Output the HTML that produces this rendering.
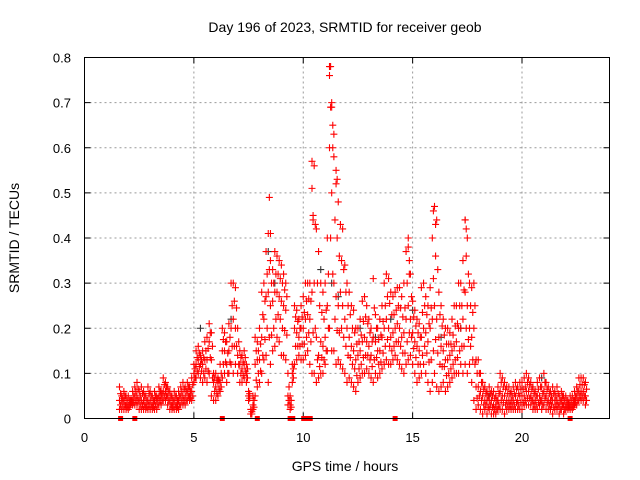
<!DOCTYPE html>
<html><head><meta charset="utf-8"><style>
body{margin:0;background:#fff}
svg{display:block;font-family:"Liberation Sans",sans-serif}
</style></head><body>
<svg id="chart" width="640" height="480">
<text x="345" y="32" text-anchor="middle" font-size="14">Day 196 of 2023, SRMTID for receiver geob</text>
<text x="345" y="471" text-anchor="middle" font-size="14">GPS time / hours</text>
<text transform="translate(19,238) rotate(-90)" text-anchor="middle" font-size="14">SRMTID / TECUs</text>
<g id="grid"></g>
<g id="ticks"></g>
<g id="marks"></g>
<rect x="84.5" y="57.5" width="525" height="361" fill="none" stroke="#000" stroke-width="1"/>
</svg>
<script>
const xTicks=[0,5,10,15,20];
const yTicks=[0,0.1,0.2,0.3,0.4,0.5,0.6,0.7,0.8];
const yTickLabels=["0","0.1","0.2","0.3","0.4","0.5","0.6","0.7","0.8"];
const tStart=1.6, tStep=0.1;
const hiVals=[.07,.05,.06,.05,
.05,.04,.06,.07,.08,.06,.07,.06,.05,.07,
.06,.05,.06,.05,.07,.06,.09,.08,.07,.06,
.05,.06,.05,.06,.07,.08,.07,.08,.07,.09,
.12,.15,.16,.14,.15,.17,.18,.21,.19,.1,
.1,.09,.12,.2,.19,.17,.21,.3,.3,.29,
.2,.15,.14,.15,.12,.06,.02,.05,.18,.17,
.2,.28,.3,.37,.41,.35,.33,.37,.36,.35,
.34,.32,.3,.1,.05,.12,.25,.24,.22,.25,
.27,.3,.3,.3,.57,.56,.42,.37,.3,.28,
.3,.4,.78,.7,.58,.52,.48,.43,.42,.34,
.3,.28,.25,.24,.2,.2,.22,.26,.27,.25,
.22,.2,.31,.23,.2,.22,.25,.3,.32,.31,
.28,.27,.28,.29,.29,.27,.3,.37,.4,.32,
.26,.24,.22,.21,.29,.3,.27,.25,.29,.4,
.47,.44,.28,.25,.22,.2,.2,.19,.22,.25,
.25,.3,.3,.35,.44,.4,.3,.29,.3,.13,
.13,.1,.08,.07,.06,.07,.06,.06,.05,.07,
.1,.09,.08,.07,.07,.06,.07,.08,.07,.08,
.08,.09,.1,.09,.08,.07,.06,.08,.09,.07,
.1,.08,.07,.06,.07,.06,.07,.05,.06,.05,
.05,.04,.05,.05,.06,.07,.09,.09,.09,.08];
const q3Vals=[.055,.045,.05,.04,
.04,.04,.05,.06,.065,.05,.055,.05,.04,.055,
.05,.04,.05,.045,.06,.055,.075,.07,.06,.05,
.04,.05,.04,.05,.06,.065,.06,.07,.06,.075,
.11,.135,.145,.13,.135,.15,.155,.19,.16,.09,
.085,.085,.1,.175,.17,.145,.18,.25,.26,.245,
.17,.135,.125,.135,.11,.055,.015,.04,.15,.15,
.165,.23,.26,.32,.33,.3,.3,.32,.32,.31,
.3,.285,.27,.07,.04,.11,.225,.215,.2,.225,
.235,.26,.265,.26,.44,.43,.3,.25,.235,.22,
.24,.32,.69,.6,.44,.4,.36,.35,.33,.28,
.25,.23,.2,.19,.165,.17,.185,.215,.225,.21,
.19,.17,.245,.2,.175,.185,.215,.25,.27,.255,
.23,.23,.24,.25,.245,.225,.245,.3,.32,.27,
.225,.205,.19,.18,.235,.25,.23,.21,.245,.31,
.36,.33,.23,.205,.185,.165,.165,.165,.185,.205,
.21,.25,.25,.285,.36,.32,.25,.235,.25,.1,
.1,.08,.065,.055,.05,.055,.05,.045,.04,.055,
.08,.07,.065,.055,.055,.05,.055,.065,.055,.065,
.065,.07,.08,.075,.065,.055,.05,.065,.07,.055,
.08,.065,.055,.05,.055,.05,.055,.04,.05,.04,
.04,.035,.04,.04,.05,.06,.075,.075,.075,.065];
const midVals=[.04,.04,.04,.03,
.03,.04,.04,.05,.05,.04,.04,.04,.03,.04,
.04,.03,.04,.04,.05,.05,.06,.06,.05,.04,
.03,.04,.03,.04,.05,.05,.05,.06,.05,.06,
.1,.12,.13,.12,.12,.13,.13,.17,.13,.08,
.07,.08,.08,.15,.15,.12,.15,.2,.22,.2,
.14,.12,.11,.12,.1,.05,.01,.03,.12,.13,
.13,.18,.22,.27,.28,.25,.26,.28,.28,.27,
.26,.25,.24,.05,.03,.1,.2,.19,.18,.2,
.2,.22,.23,.22,.28,.3,.18,.14,.17,.16,
.18,.25,.6,.5,.3,.27,.25,.28,.25,.22,
.2,.18,.16,.15,.13,.14,.15,.17,.18,.17,
.16,.14,.18,.17,.15,.15,.18,.2,.22,.2,
.18,.19,.2,.21,.2,.18,.19,.22,.25,.22,
.19,.17,.16,.15,.18,.2,.19,.17,.2,.22,
.25,.22,.18,.16,.15,.13,.13,.14,.15,.16,
.17,.2,.2,.22,.28,.25,.2,.18,.2,.07,
.07,.06,.05,.04,.04,.04,.04,.03,.03,.04,
.06,.05,.05,.04,.04,.04,.04,.05,.04,.05,
.05,.05,.06,.06,.05,.04,.04,.05,.05,.04,
.06,.05,.04,.04,.04,.04,.04,.03,.04,.03,
.03,.03,.03,.03,.04,.05,.06,.06,.06,.05];
const q1Vals=[.03,.03,.03,.025,
.025,.035,.035,.04,.04,.03,.03,.03,.025,.03,
.03,.025,.03,.03,.04,.04,.05,.05,.04,.03,
.025,.03,.025,.03,.04,.04,.04,.05,.045,.05,
.09,.105,.115,.105,.1,.11,.105,.135,.09,.06,
.055,.065,.07,.12,.125,.1,.125,.16,.16,.16,
.12,.1,.095,.105,.09,.045,.01,.025,.085,.1,
.105,.14,.175,.2,.18,.185,.2,.22,.23,.22,
.2,.195,.185,.04,.025,.09,.16,.16,.16,.165,
.165,.18,.19,.17,.19,.2,.13,.115,.135,.13,
.15,.2,.4,.32,.22,.195,.19,.2,.18,.16,
.14,.135,.12,.11,.095,.11,.12,.135,.14,.14,
.13,.115,.13,.135,.12,.125,.145,.16,.175,.16,
.15,.16,.17,.17,.16,.145,.145,.17,.19,.18,
.155,.135,.12,.12,.14,.16,.145,.125,.13,.15,
.175,.145,.12,.115,.115,.095,.1,.11,.12,.13,
.135,.15,.16,.16,.2,.175,.16,.13,.12,.045,
.05,.04,.03,.03,.025,.03,.025,.02,.02,.03,
.04,.035,.03,.03,.03,.03,.03,.035,.03,.035,
.035,.04,.045,.045,.04,.03,.03,.035,.04,.03,
.045,.035,.03,.03,.025,.03,.03,.02,.03,.02,
.025,.025,.025,.025,.035,.04,.05,.05,.05,.04];
const loVals=[.02,.02,.02,.02,
.02,.03,.03,.03,.03,.02,.02,.02,.02,.02,
.02,.02,.02,.02,.03,.03,.04,.04,.03,.02,
.02,.02,.02,.02,.03,.03,.03,.04,.04,.04,
.08,.09,.1,.09,.08,.09,.08,.1,.05,.04,
.04,.05,.06,.09,.1,.08,.1,.12,.1,.12,
.1,.08,.08,.09,.08,.04,.01,.02,.05,.07,
.08,.1,.13,.14,.08,.12,.15,.16,.18,.17,
.14,.14,.13,.03,.02,.08,.12,.13,.14,.13,
.13,.14,.15,.12,.1,.1,.08,.09,.1,.1,
.12,.15,.2,.15,.15,.12,.13,.12,.11,.1,
.08,.09,.08,.07,.06,.08,.09,.1,.1,.11,
.1,.09,.08,.1,.09,.1,.11,.12,.13,.12,
.12,.13,.14,.13,.12,.11,.1,.12,.13,.14,
.12,.1,.08,.09,.1,.12,.1,.08,.06,.08,
.1,.07,.06,.07,.08,.06,.07,.08,.09,.1,
.1,.1,.12,.1,.12,.1,.12,.08,.04,.02,
.03,.02,.01,.02,.01,.02,.01,.01,.01,.02,
.02,.02,.01,.02,.02,.02,.02,.02,.02,.02,
.02,.03,.03,.03,.03,.02,.02,.02,.03,.02,
.03,.02,.02,.02,.01,.02,.02,.01,.02,.01,
.02,.02,.02,.02,.03,.03,.04,.04,.04,.03];
const spikeTimes=[8.45,8.5,10.4,10.45,11.2,11.25,11.3,11.35,11.4,11.5,11.55,14.8,14.85,15.95,16.05,17.4,17.45];
const spikeVals=[0.49,0.41,0.51,0.45,0.76,0.78,0.69,0.65,0.63,0.55,0.53,0.38,0.35,0.46,0.43,0.44,0.42];
const grayTimes=[5.3,6.7,8.4,8.7,10.8,11.3,11.6,12.6,13.3,14.0,15.0,16.3,17.2,18.5,20.9];
const grayVals=[0.2,0.22,0.37,0.3,0.33,0.3,0.27,0.2,0.18,0.22,0.24,0.18,0.2,0.05,0.09];
const zeroFlagTimes=[1.65,2.3,6.3,7.9,9.4,9.52,10.02,10.12,10.22,10.32,14.2,22.2];

const X0=84.5,X1=609.5,Y0=418.5,Y1=57.5;
function xs(t){return X0+(t/24)*(X1-X0);}
function ys(v){return Y0-(v/0.8)*(Y0-Y1);}
const NS="http://www.w3.org/2000/svg";
const grid=document.getElementById('grid'),ticks=document.getElementById('ticks'),marks=document.getElementById('marks');
function mk(tag,attrs,parent){const e=document.createElementNS(NS,tag);for(const k in attrs)e.setAttribute(k,attrs[k]);parent.appendChild(e);return e;}
xTicks.forEach(t=>{
  const x=xs(t);
  if(t>0){const g=mk('line',{x1:x,x2:x,y1:Y0,y2:Y1,stroke:'#999','stroke-dasharray':'2,3'},grid);
  
  }
  mk('line',{x1:x,x2:x,y1:Y0,y2:Y0-6,stroke:'#000'},ticks);
  mk('line',{x1:x,x2:x,y1:Y1,y2:Y1+6,stroke:'#000'},ticks);
  const l=mk('text',{x:x,y:442,'text-anchor':'middle','font-size':'13'},ticks);l.textContent=String(t);
  
  
});
yTicks.forEach((v,i)=>{
  const y=ys(v);
  if(v>0&&v<0.8){const g=mk('line',{x1:X0,x2:X1,y1:y,y2:y,stroke:'#999','stroke-dasharray':'2,3'},grid);
  
  }
  mk('line',{x1:X0,x2:X0+6,y1:y,y2:y,stroke:'#000'},ticks);
  mk('line',{x1:X1,x2:X1-6,y1:y,y2:y,stroke:'#000'},ticks);
  const l=mk('text',{x:71,y:y+5,'text-anchor':'end','font-size':'13'},ticks);l.textContent=yTickLabels[i];
  
  
});
function plus(t,v,color,name){
  const x=xs(t),y=ys(v);
  const p=mk('path',{d:`M${x-3.5},${y}h7M${x},${y-3.5}v7`,stroke:color,'stroke-width':'1.1',fill:'none'},marks);
  
  
}
grayTimes.forEach((t,i)=>plus(t,grayVals[i],'#333','gray-point'));
[loVals,midVals,hiVals].forEach(arr=>arr.forEach((v,i)=>plus(tStart+i*tStep,v,'#f00','srmtid-point')));
[q1Vals,q3Vals].forEach(arr=>arr.forEach((v,i)=>plus(tStart+i*tStep+0.05,v,'#f00','srmtid-point')));
spikeTimes.forEach((t,i)=>plus(t,spikeVals[i],'#f00','srmtid-spike'));
zeroFlagTimes.forEach(t=>{
  const r=mk('rect',{x:xs(t)-2.5,y:Y0-2.5,width:5,height:5,fill:'#f00'},marks);
  
  
});
</script>
</body></html>
